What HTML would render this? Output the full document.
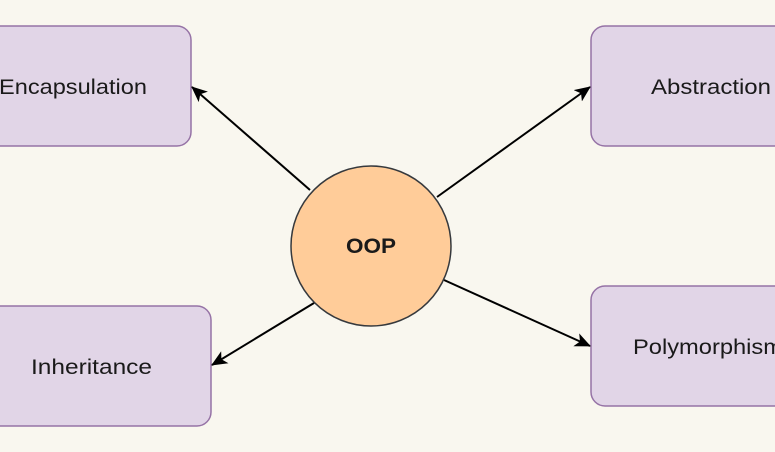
<!DOCTYPE html>
<html><head><meta charset="utf-8"><style>html,body{margin:0;padding:0;background:#f9f7ef;}svg{display:block}</style></head>
<body>
<svg width="775" height="452" viewBox="0 0 775 452" xmlns="http://www.w3.org/2000/svg">
<defs><marker id="a" markerWidth="16" markerHeight="14" refX="15" refY="7" orient="auto" markerUnits="userSpaceOnUse"><path d="M0,0 L16,7 L0,14 L4,7 Z" fill="#000"/></marker>
</defs>
<rect width="775" height="452" fill="#f9f7ef"/>
<g fill="#e1d5e7" stroke="#9673a6" stroke-width="1.5">
<rect x="-20" y="26" width="211" height="120" rx="14"/>
<rect x="591" y="26" width="210" height="120" rx="14"/>
<rect x="-20" y="306" width="231" height="120" rx="14"/>
<rect x="591" y="286" width="210" height="120" rx="14"/>
</g>
<g stroke="#000" stroke-width="2" marker-end="url(#a)">
<line x1="310" y1="190" x2="192" y2="87"/>
<line x1="437" y1="197" x2="590" y2="87"/>
<line x1="314" y1="303" x2="212" y2="365"/>
<line x1="444" y1="280" x2="590" y2="346"/>
</g>
<circle cx="371" cy="246" r="80" fill="#ffcc99" stroke="#36393d" stroke-width="1.5"/>
<g font-family="Liberation Sans, Arial, sans-serif" font-size="21" fill="#1a1a1a" text-anchor="middle" lengthAdjust="spacingAndGlyphs">
<text x="73" y="94" textLength="148" lengthAdjust="spacingAndGlyphs">Encapsulation</text>
<text x="711" y="94" textLength="120" lengthAdjust="spacingAndGlyphs">Abstraction</text>
<text x="91.5" y="374" textLength="121" lengthAdjust="spacingAndGlyphs">Inheritance</text>
<text x="708" y="354" textLength="150" lengthAdjust="spacingAndGlyphs">Polymorphism</text>
<text x="371" y="253" font-weight="bold" textLength="50" lengthAdjust="spacingAndGlyphs">OOP</text>
</g>
</svg>
</body></html>
